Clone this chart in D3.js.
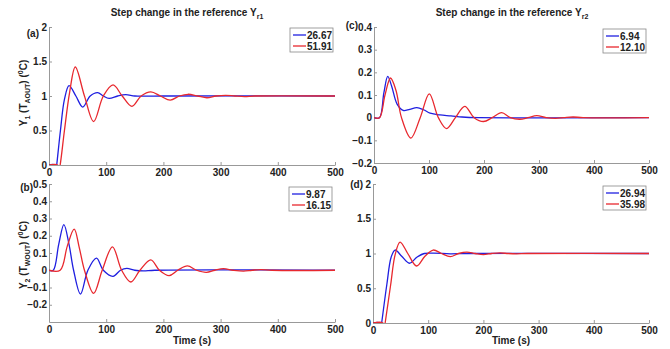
<!DOCTYPE html>
<html>
<head>
<meta charset="utf-8">
<script src="https://cdn.jsdelivr.net/npm/d3@7"></script>
<style>
  body { margin: 0; background: #fff; }
  text { font-family: "Liberation Sans", Arial, sans-serif; font-weight: bold; fill: #222; }
</style>
</head>
<body>
<script>
var width = 670,
  height = 349;

// (a) Y1 response to step in Yr1
var a_blue = [[0,0],[10,0],[12,-0.1],[13.5,0],[20,0.5],[27,0.95],[35,1.15],[47,1.0],[59,0.84],[72,1.0],[85,1.05],[95,1.0],[105,0.965],[120,1.0],[134,1.02],[150,1.0],[170,0.997],[200,1.0],[500,1.0]];
var a_red = [[0,0],[15,0],[17,-0.1],[19.5,0],[27,0.5],[36,1.05],[46,1.42],[62,1.0],[78,0.63],[95,1.0],[112,1.16],[128,1.0],[145,0.85],[161,1.0],[178,1.06],[195,1.0],[212,0.94],[228,1.0],[243,1.025],[260,1.0],[276,0.975],[292,1.0],[309,1.01],[325,1.0],[342,0.992],[360,1.0],[500,1.0]];
// (b) Y2 response to step in Yr1
var b_blue = [[0,0],[7.5,0],[17,0.15],[26,0.265],[35,0.15],[43,0],[55,-0.138],[68,0],[83,0.07],[95,0],[112,-0.035],[125,0],[136,0.011],[150,0],[165,-0.004],[185,0],[500,0]];
var b_red = [[0,0],[19.5,0],[32,0.14],[44,0.238],[53,0.13],[62,0],[78,-0.134],[93,0],[111,0.136],[127,0],[143,-0.068],[159,0],[178,0.06],[193,0],[210,-0.031],[225,0],[242,0.025],[258,0],[275,-0.012],[290,0],[305,0.009],[322,0],[340,-0.005],[355,0],[370,0.004],[390,0],[500,0]];
// (c) Y1 response to step in Yr2
var c_blue = [[0,0],[10,0],[18,0.11],[25,0.182],[32,0.14],[42,0.06],[53,0.032],[65,0.037],[78,0.044],[90,0.035],[102,0.02],[120,0.012],[140,0.008],[160,0.003],[190,0],[500,0]];
var c_red = [[0,0],[10,0],[20,0.1],[30,0.175],[40,0.12],[50,0],[67,-0.09],[84,0],[100.6,0.105],[117,0],[132,-0.048],[148,0],[165,0.05],[182,0],[199,-0.017],[215,0],[232,0.022],[248,0],[265,-0.007],[280,0],[296,0.009],[313,0],[330,-0.003],[345,0],[362,0.003],[380,0],[500,0]];
// (d) Y2 response to step in Yr2
var d_blue = [[0,0],[12,0],[14,-0.1],[15.7,0],[25,0.55],[33,0.95],[40,1.05],[52,0.96],[66,0.86],[80,0.95],[93,1.0],[110,1.005],[140,0.996],[170,1.0],[500,1.0]];
var d_red = [[0,0],[18,0],[20,-0.1],[22,0],[32,0.55],[40,0.98],[49,1.165],[63,1.0],[79,0.82],[94,0.96],[109,1.05],[124,1.0],[140,0.955],[155,1.0],[170,1.02],[185,1.0],[200,0.985],[215,1.0],[230,1.008],[245,1.0],[260,0.996],[280,1.0],[500,1.0]];

var xTicks = [0, 100, 200, 300, 400, 500];
var legends = {a: ["26.67", "51.91"], b: ["9.87", "16.15"], c: ["6.94", "12.10"], d: ["26.94", "35.98"]};

var svg = d3.select("body").append("svg")
  .attr("width", width)
  .attr("height", height);

var defs = svg.append("defs");

var panels = [
  {id: "a", left: 49, right: 335, top: 27, bottom: 165, ydom: [0, 2], yticks: [0, 0.5, 1, 1.5, 2], series: [a_blue, a_red], lx: 290, ly: 28, tx: 39, ty: 37},
  {id: "b", left: 49, right: 335, top: 184, bottom: 322, ydom: [-0.3, 0.5], yticks: [-0.2, -0.1, 0, 0.1, 0.2, 0.3, 0.4, 0.5], series: [b_blue, b_red], lx: 289, ly: 187, tx: 33, ty: 191},
  {id: "c", left: 374, right: 649, top: 27, bottom: 163, ydom: [-0.2, 0.4], yticks: [-0.2, -0.1, 0, 0.1, 0.2, 0.3, 0.4], series: [c_blue, c_red], lx: 603, ly: 29, tx: 358, ty: 29},
  {id: "d", left: 373, right: 649, top: 184, bottom: 323, ydom: [0, 2], yticks: [0, 0.5, 1, 1.5, 2], series: [d_blue, d_red], lx: 603, ly: 186, tx: 363, ty: 188}
];
var colors = ["#1f1fe0", "#e8282e"];

panels.forEach(function(p) {
  var x = d3.scaleLinear().domain([0, 500]).range([p.left, p.right]);
  var y = d3.scaleLinear().domain(p.ydom).range([p.bottom, p.top]);

  defs.append("clipPath").attr("id", "clip-" + p.id)
    .append("rect").attr("x", p.left).attr("y", p.top)
    .attr("width", p.right - p.left).attr("height", p.bottom - p.top);

  var g = svg.append("g");

  var xAxis = g.append("g")
    .attr("transform", "translate(0," + p.bottom + ")")
    .call(d3.axisBottom(x).tickValues(xTicks).tickSizeInner(-3).tickSizeOuter(0).tickPadding(4));
  var yAxis = g.append("g")
    .attr("transform", "translate(" + p.left + ",0)")
    .call(d3.axisLeft(y).tickValues(p.yticks).tickFormat(d3.format("")).tickSizeInner(-3).tickSizeOuter(0).tickPadding(2));
  [xAxis, yAxis].forEach(function(ax) {
    ax.select(".domain").attr("stroke", "#999");
    ax.selectAll(".tick line").attr("stroke", "#999");
    ax.selectAll(".tick text").attr("font-size", 10).attr("fill", "#222")
      .attr("font-family", "Liberation Sans, Arial, sans-serif").attr("font-weight", "bold");
  });

  var line = d3.line()
    .x(function(d) { return x(d[0]); })
    .y(function(d) { return y(d[1]); })
    .curve(d3.curveCatmullRom.alpha(0.5));

  g.append("g").attr("clip-path", "url(#clip-" + p.id + ")")
    .selectAll("path")
    .data(p.series)
    .enter().append("path")
      .attr("d", line)
      .attr("fill", "none")
      .attr("stroke", function(d, i) { return colors[i]; })
      .attr("stroke-width", 1.3);

  // legend
  var lg = g.append("g").attr("transform", "translate(" + p.lx + "," + p.ly + ")");
  lg.append("rect").attr("width", 43).attr("height", 24)
    .attr("fill", "#fff").attr("stroke", "#888").attr("stroke-width", 0.8);
  legends[p.id].forEach(function(t, i) {
    lg.append("line").attr("x1", 3).attr("x2", 16)
      .attr("y1", 7 + i * 11).attr("y2", 7 + i * 11)
      .attr("stroke", colors[i]).attr("stroke-width", 1.3);
    lg.append("text").attr("x", 17).attr("y", 10.5 + i * 11)
      .attr("font-size", 10).text(t);
  });

  g.append("text")
    .attr("x", p.tx).attr("y", p.ty)
    .attr("text-anchor", "end").attr("font-size", 10)
    .text("(" + p.id + ")");
});

// titles
function title(cx, sub) {
  var t = svg.append("text").attr("x", cx).attr("y", 16)
    .attr("text-anchor", "middle").attr("font-size", 10);
  t.append("tspan").text("Step change in the reference Y");
  t.append("tspan").attr("font-size", 7).attr("dy", 3).text(sub);
}
title(187, "r1");
title(512, "r2");

// x axis labels
[[192, 344], [511, 344]].forEach(function(c) {
  svg.append("text").attr("x", c[0]).attr("y", c[1])
    .attr("text-anchor", "middle").attr("font-size", 10).text("Time (s)");
});

// y axis labels
function ylabel(cy, sub1, sub2) {
  var t = svg.append("text")
    .attr("transform", "translate(27," + cy + ") rotate(-90)")
    .attr("text-anchor", "middle").attr("font-size", 10);
  t.append("tspan").text("Y");
  t.append("tspan").attr("font-size", 7).attr("dy", 3).text(sub1);
  t.append("tspan").attr("dy", -3).text(" (T");
  t.append("tspan").attr("font-size", 7).attr("dy", 3).text(sub2);
  t.append("tspan").attr("dy", -3).text(") (");
  t.append("tspan").attr("font-size", 7).attr("dy", -4).text("0");
  t.append("tspan").attr("dy", 4).text("C)");
}
ylabel(93, "1", "AOUT");
ylabel(255, "2", "WOUT");
</script>
</body>
</html>
